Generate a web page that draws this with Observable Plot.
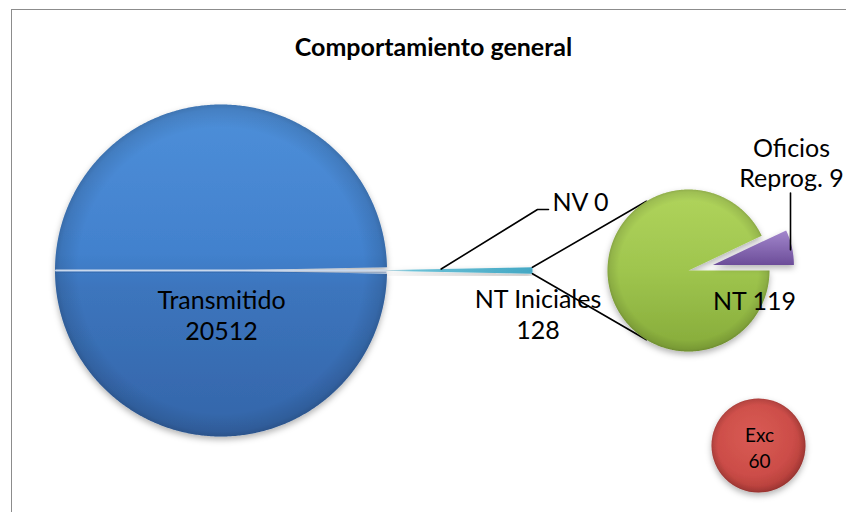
<!DOCTYPE html>
<html><head><meta charset="utf-8">
<script src="https://cdn.jsdelivr.net/npm/d3@7"></script>
<script src="https://cdn.jsdelivr.net/npm/@observablehq/plot@0.6"></script>
<style>
html,body{margin:0;padding:0;background:#fff;overflow:hidden}
#wrap{position:relative;width:846px;height:512px;overflow:hidden}
#border{position:absolute;left:11px;top:9px;width:900px;height:600px;border-left:1.6px solid #8c8c8c;border-top:1.6px solid #8c8c8c}
#chart{position:absolute;left:0;top:0}
</style></head><body>
<div id="wrap"><div id="border"></div><div id="chart"></div></div>
<script>
// ---- data ----
const title = "Comportamiento general";
const mainLabels = ["Transmitido", "NV", "NT Iniciales"];
const mainValues = [20512, 0, 128];
const subLabels = ["NT", "Oficios Reprog."];
const subValues = [119, 9];
const extraLabels = ["Exc"];
const extraValues = [60];

// ---- layout ----
const W = 846, H = 512;
const FONT = "Lato, 'Open Sans', sans-serif";
const main = {cx: 220.5, cy: 270, r: 166, explode: 145.5};
const sub = {cx: 688, cy: 270, r: 81, explode: 25};
const extra = {cx: 758, cy: 445, r: 47};
const labelPos = {
  "Transmitido": [221, 314, "stack", "middle"],
  "NV": [552, 201, "inline", "start"],
  "NT Iniciales": [537.5, 313, "stack", "middle"],
  "NT": [754, 300, "inline", "middle"],
  "Oficios Reprog.": [791, 161.5, "wrap", "middle"],
  "Exc": [759, 446, "stack", "middle"]
};
const fmt = (label, value) => {
  const mode = labelPos[label][2];
  if (mode === "stack") return `${label}\n${value}`;
  if (mode === "wrap") return label.replace(" ", "\n") + " " + value;
  return `${label} ${value}`;
};

// ---- geometry from data ----
const TAU = 2 * Math.PI;
const mainTotal = d3.sum(mainValues);
const delta = TAU * mainValues[2] / mainTotal;
const mainArcs = d3.pie().sort(null).value(d => d)
  .startAngle(Math.PI / 2 + delta / 2).endAngle(Math.PI / 2 + delta / 2 + TAU)(mainValues);
const subArcs = d3.pie().sort(null).value(d => d)
  .startAngle(Math.PI / 2).endAngle(Math.PI / 2 + TAU)(subValues);

const pt = (cx, cy, r, a) => [cx + r * Math.sin(a), cy - r * Math.cos(a)];
function slice(c, arc, off) {
  const mid = (arc.startAngle + arc.endAngle) / 2;
  const ox = c.cx + off * Math.sin(mid), oy = c.cy - off * Math.cos(mid);
  const pts = [{x: ox, y: oy}];
  const n = Math.max(3, Math.ceil((arc.endAngle - arc.startAngle) / (Math.PI / 360)));
  for (let i = 0; i <= n; i++) {
    const a = arc.startAngle + (arc.endAngle - arc.startAngle) * i / n;
    const [x, y] = pt(ox, oy, c.r, a);
    pts.push({x, y});
  }
  return {pts, tip: [ox, oy], mid};
}
const sTrans = slice(main, mainArcs[0], 0);
const sNTI = slice(main, mainArcs[2], main.explode);
const sNT = slice(sub, subArcs[0], 0);
const sOf = slice(sub, subArcs[1], sub.explode);

// wedge end corners
const endTop = pt(sNTI.tip[0], sNTI.tip[1], main.r, mainArcs[2].startAngle);
const endBot = pt(sNTI.tip[0], sNTI.tip[1], main.r, mainArcs[2].endAngle);
// tangent points on secondary pie from wedge end
const ex = (endTop[0] + endBot[0]) / 2, ey = (endTop[1] + endBot[1]) / 2;
const D = Math.hypot(sub.cx - ex, sub.cy - ey);
const base = Math.atan2(ex - sub.cx, -(ey - sub.cy));
const t = Math.acos(sub.r / D);
const tanTop = pt(sub.cx, sub.cy, sub.r, base + t);
const tanBot = pt(sub.cx, sub.cy, sub.r, base - t);
const connectors = [
  {id: "top", x: endTop[0], y: endTop[1]}, {id: "top", x: tanTop[0], y: tanTop[1]},
  {id: "bot", x: endBot[0], y: endBot[1]}, {id: "bot", x: tanBot[0], y: tanBot[1]}
];
// NV leader (NV slice sits on the NT Iniciales upper edge)
const nvStart = pt(sNTI.tip[0], sNTI.tip[1], main.r * 0.45, mainArcs[1].endAngle);
const nvPos = labelPos["NV"];
const nvLeader = [
  {x: nvStart[0], y: nvStart[1]}, {x: nvPos[0] - 15, y: nvPos[1] + 8}, {x: nvPos[0] - 4, y: nvPos[1] + 8}
];
// Oficios leader: from under the label down into the exploded slice
const ofPos = labelPos["Oficios Reprog."];
const ofMid = pt(sOf.tip[0], sOf.tip[1], sub.r * 0.8, sOf.mid);
const ofLeader = [{x: ofPos[0] - 1, y: ofPos[1] + 31}, {x: ofPos[0] - 1, y: ofMid[1] - 1}];
// diameter bevel line across the main pie
const diam = [pt(main.cx, main.cy, main.r - 1, -Math.PI / 2), pt(main.cx, main.cy, main.r - 1, Math.PI / 2)]
  .map(([x, y]) => ({x, y}));

const labels = [
  ...mainLabels.map((l, i) => ({l, v: mainValues[i]})),
  ...subLabels.map((l, i) => ({l, v: subValues[i]}))
].map(d => ({x: labelPos[d.l][0], y: labelPos[d.l][1], anchor: labelPos[d.l][3], text: fmt(d.l, d.v)}));
const extraData = extraLabels.map((l, i) => ({x: extra.cx, y: extra.cy, tx: labelPos[l][0], ty: labelPos[l][1], text: fmt(l, extraValues[i])}));

const shape = (pts, fill) => Plot.line(pts, {x: "x", y: "y", fill, stroke: "none", curve: "linear-closed"});
const SHADOWED = ["url(#gBlue)", "url(#gCyan)", "url(#gGreen)", "url(#gPurple)", "url(#gRed)"];
const labelText = anchor => Plot.text(labels.filter(d => d.anchor === anchor),
  {x: "x", y: "y", text: "text", textAnchor: anchor, fontSize: 25, fontFamily: FONT, fill: "#000", lineHeight: 1.22});

const svg = Plot.plot({
  width: W, height: H, margin: 0,
  x: {domain: [0, W], range: [0, W], axis: null},
  y: {domain: [0, H], range: [0, H], axis: null},
  style: {background: "transparent", overflow: "visible"},
  marks: [
    shape(sTrans.pts, "url(#gBlue)"),
    shape(sTrans.pts, "url(#gEdge)"),
    Plot.line(diam, {x: "x", y: "y", stroke: "#c9d8ec", strokeWidth: 2}),
    Plot.line(diam.map(d => ({x: d.x, y: d.y + 1.8})), {x: "x", y: "y", stroke: "#2f5f9e", strokeWidth: 1, strokeOpacity: 0.5}),
    shape(sNTI.pts, "url(#gCyan)"),
    Plot.line(nvLeader, {x: "x", y: "y", stroke: "#000", strokeWidth: 1.6}),
    Plot.line(connectors, {x: "x", y: "y", z: "id", stroke: "#000", strokeWidth: 1.6}),
    shape(sNT.pts, "url(#gGreen)"),
    shape(sNT.pts, "url(#gEdge)"),
    shape(sOf.pts, "url(#gPurple)"),
    Plot.line(ofLeader, {x: "x", y: "y", stroke: "#000", strokeWidth: 1.6}),
    Plot.dot(extraData, {x: "x", y: "y", r: extra.r, fill: "url(#gRed)", stroke: "none"}),
    Plot.dot(extraData, {x: "x", y: "y", r: extra.r, fill: "url(#gEdge)", stroke: "none"}),
    labelText("middle"),
    labelText("start"),
    Plot.text(extraData, {x: "tx", y: "ty", text: "text", fontSize: 19, fontFamily: FONT, fill: "#000", lineHeight: 1.36}),
    Plot.text([title], {x: () => 433, y: () => 47, text: d => d, fontSize: 25, fontWeight: "bold", fontFamily: FONT, fill: "#000"})
  ]
});

const s = d3.select(svg);
const defs = s.insert("defs", ":first-child");
function rad(id, cx, cy, r, stops) {
  const g = defs.append("radialGradient").attr("id", id).attr("cx", cx).attr("cy", cy).attr("r", r);
  stops.forEach(([o, c, op]) => g.append("stop").attr("offset", o).attr("stop-color", c).attr("stop-opacity", op ?? 1));
}
function lin(id, x2, y2, stops) {
  const g = defs.append("linearGradient").attr("id", id).attr("x1", 0).attr("y1", 0).attr("x2", x2).attr("y2", y2);
  stops.forEach(([o, c, op]) => g.append("stop").attr("offset", o).attr("stop-color", c).attr("stop-opacity", op ?? 1));
}
lin("gBlue", 0, 1, [[0, "#4e8fd9"], [0.45, "#4281cd"], [0.55, "#3c75bd"], [1, "#3465a9"]]);
lin("gGreen", 0, 1, [[0, "#b0d45c"], [0.5, "#9fc54e"], [1, "#86ab3a"]]);
lin("gPurple", 0, 1, [[0, "#a387cd"], [1, "#6c4d99"]]);
lin("gCyan", 1, 0, [[0, "#e8ecef"], [0.1, "#d0dce2"], [0.28, "#6bc1d7"], [1, "#44a8c4"]]);
rad("gRed", 0.45, 0.4, 0.6, [[0, "#d95b55"], [0.7, "#cc4d48"], [1, "#b23d39"]]);
rad("gEdge", 0.5, 0.5, 0.5, [[0, "#000", 0], [0.86, "#000", 0], [0.97, "#000", 0.1], [1, "#000", 0.18]]);
const f = defs.append("filter").attr("id", "sh").attr("x", "-20%").attr("y", "-20%").attr("width", "140%").attr("height", "150%");
f.append("feDropShadow").attr("dx", 0).attr("dy", 3).attr("stdDeviation", 3).attr("flood-color", "#000").attr("flood-opacity", 0.3);
s.selectAll("g").filter(function() { return SHADOWED.includes(this.getAttribute("fill")); }).attr("filter", "url(#sh)");

document.getElementById("chart").appendChild(svg);
</script>
</body></html>
